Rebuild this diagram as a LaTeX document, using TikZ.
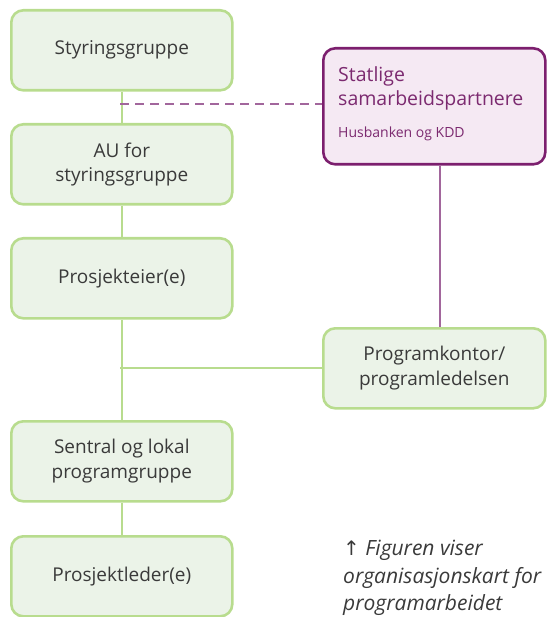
\documentclass[tikz,border=0pt]{standalone}
\usepackage{fontspec}
\usetikzlibrary{backgrounds}
\setmainfont{Open Sans}
\newfontfamily\symfont{DejaVu Sans}
\definecolor{gfill}{HTML}{EBF3E8}
\definecolor{gline}{HTML}{B8DC8E}
\definecolor{pfill}{HTML}{F5E9F3}
\definecolor{pline}{HTML}{7C1F6E}
\definecolor{pconn}{HTML}{A2669C}
\definecolor{txt}{HTML}{3A3A3A}
\definecolor{ptxt}{HTML}{7C2A70}
\begin{document}
\begin{tikzpicture}[x=1pt,y=-1pt,
  gbox/.style={draw=gline,fill=gfill,line width=2.6pt,rounded corners=12pt,
    minimum width=221pt,minimum height=80pt,align=center,text=txt,
    font=\fontsize{19}{24.5}\selectfont,anchor=north west,inner sep=0pt},
  pbox/.style={draw=pline,fill=pfill,line width=2.6pt,rounded corners=12pt,
    minimum width=222pt,minimum height=116pt,anchor=north west,inner sep=0pt},
  ptext/.style={anchor=base west,text=ptxt,inner sep=0pt},
  captext/.style={anchor=base west,text=txt,font=\fontsize{21}{22}\selectfont\itshape,inner sep=0pt},
  gconn/.style={draw=gline,line width=2.4pt},
  pconnl/.style={draw=pconn,line width=2.4pt}]
\useasboundingbox (0,0) rectangle (546,617);
\node[gbox] (s1) at (10,9) {Styringsgruppe};
\node[gbox] (s2) at (10,123) {AU for\\styringsgruppe};
\node[gbox] (s3) at (10,237) {Prosjekteier(e)};
\node[gbox] (s4) at (10,420) {Sentral og lokal\\programgruppe};
\node[gbox] (s5) at (10,535) {Prosjektleder(e)};
\node[pbox] (p1) at (322,47) {};
\node[gbox,minimum width=222pt] (p2) at (322,327) {Programkontor/\\programledelsen};
\coordinate (jA) at (120,104);
\coordinate (jB) at (120,368);
\coordinate (pC) at (440,0);
\begin{scope}[on background layer]
\path[gconn] (s1) -- (s2);
\path[gconn] (s2) -- (s3);
\path[gconn] (s3) -- (s4);
\path[gconn] (s4) -- (s5);
\path[gconn] (jB) -- (p2.west |- jB);
\path[pconnl,dashed,dash pattern=on 9pt off 6pt] (jA) -- (p1.west |- jA);
\path[pconnl] (p1.south -| pC) -- (p2.north -| pC);
\end{scope}
\node[ptext,font=\fontsize{19.5}{22}\selectfont] (t1) at (338,82) {Statlige};
\node[ptext,font=\fontsize{19.5}{22}\selectfont] (t2) at (338,106) {samarbeidspartnere};
\node[ptext,font=\fontsize{14}{15}\selectfont] (t3) at (338,138) {Husbanken og KDD};
\node[captext] (c1) at (343,555) {{\upshape\symfont\fontsize{20}{20}\selectfont ↑} Figuren viser};
\node[captext] (c2) at (343,583) {organisasjonskart for};
\node[captext] (c3) at (343,610) {programarbeidet};
\end{tikzpicture}
\end{document}
